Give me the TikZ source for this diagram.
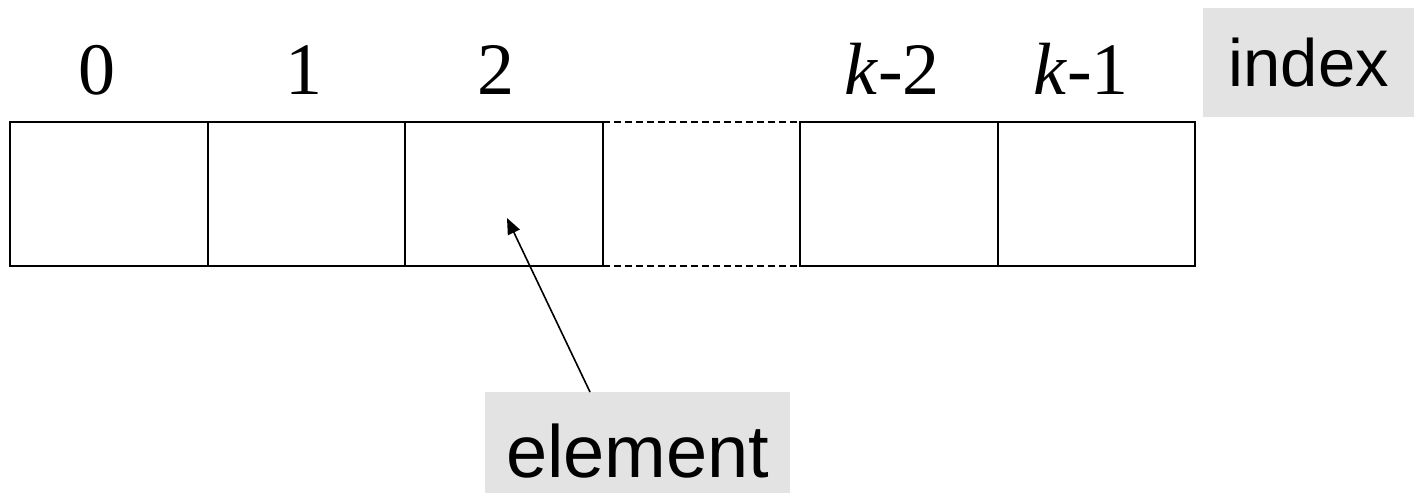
\documentclass[tikz,border=0pt]{standalone}
\usepackage{fontspec}
\setmainfont{Liberation Serif}
\setsansfont{Liberation Sans}
\usetikzlibrary{arrows.meta,positioning}
\definecolor{tag}{HTML}{E3E3E3}
\tikzset{
  cell/.style  = {rectangle, draw=black, line width=2pt, minimum width=197.5pt,
                  minimum height=144pt, inner sep=0pt, outer sep=0pt},
  num/.style   = {font=\fontsize{74}{74}\selectfont, inner sep=0pt, anchor=base},
  tagbox/.style= {rectangle, fill=tag, font=\sffamily, inner sep=0pt, text depth=0pt},
  gapln/.style = {line width=2pt, dash pattern=on 7pt off 4pt},
  ptr/.style   = {-{Triangle[length=16pt,width=13pt]}, line width=1.6pt},
}
\begin{document}
\begin{tikzpicture}[x=1pt,y=-1pt,node distance=0pt]
\useasboundingbox (0,0) rectangle (1414,495);
% cells
\node[cell, anchor=north west] (c0) at (10,122) {};
\node[cell, right=of c0] (c1) {};
\node[cell, right=of c1] (c2) {};
\node[cell, right=197.5pt of c2] (c3) {};
\node[cell, right=of c3] (c4) {};
% dotted gap
\draw[gapln] (c2.north east) -- (c3.north west);
\draw[gapln] (c2.south east) -- (c3.south west);
% index labels
\node[num] (n0) at (97,95) {0};
\node[num] (n1) at (304,95) {1};
\node[num] (n2) at (496,95) {2};
\node[num] (n3) at (892,95) {\textit{k}-2};
\node[num] (n4) at (1081,95) {\textit{k}-1};
% tags
\node[tagbox, font=\sffamily\fontsize{67}{67}\selectfont, minimum width=211pt,
      minimum height=109pt, anchor=north west] (index) at (1203,8) {index};
\node[tagbox, font=\sffamily\fontsize{74}{74}\selectfont, text height=69pt,
      minimum width=305pt, minimum height=101pt, anchor=north west] (elem) at (485,392) {element};
% pointer
\coordinate (tip) at (507,218);
\draw[ptr] (elem.north west) ++(105pt,0) coordinate (tail) -- (tip);
\end{tikzpicture}
\end{document}
